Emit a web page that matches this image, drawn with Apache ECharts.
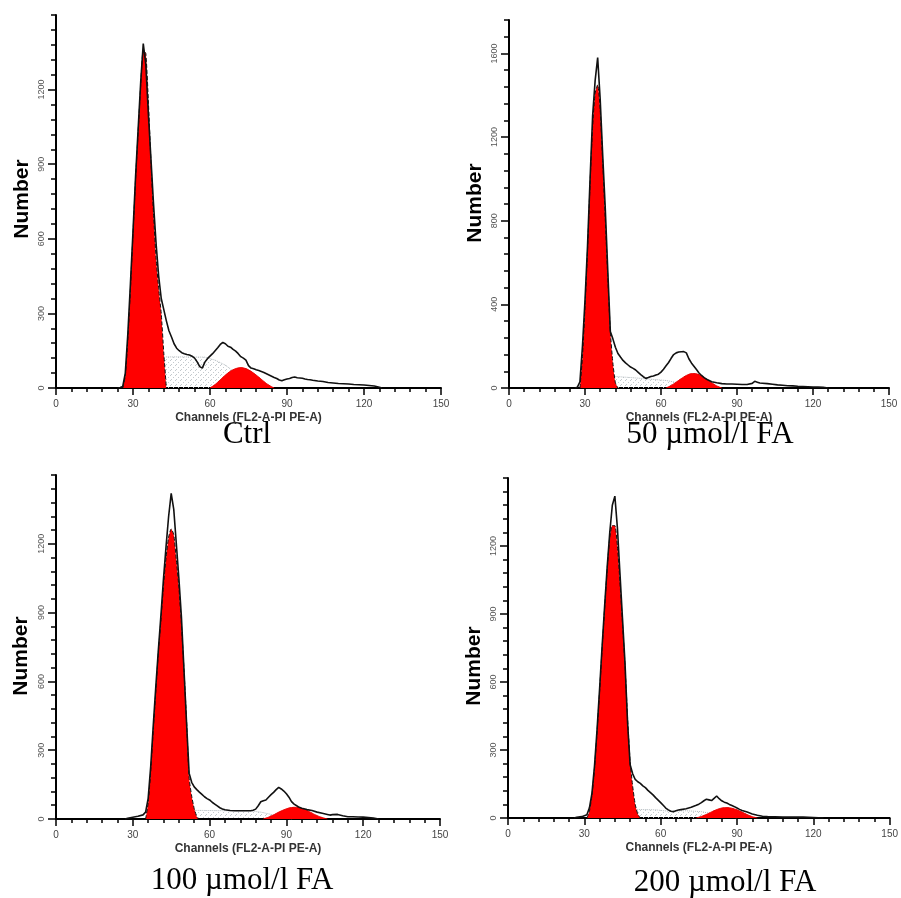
<!DOCTYPE html>
<html><head><meta charset="utf-8">
<script src="https://cdn.jsdelivr.net/npm/echarts@6/dist/echarts.min.js"></script>
<style>html,body{margin:0;padding:0;background:#fff}#c{width:901px;height:898px}</style>
</head><body><div id="c"></div>
<script>
// ---------- DATA (channel, count) ----------
const ctrlHist = [[24,0],[25,2],[26,6],[27,60],[28,220],[29,420],[30,630],[31,850],[32,1040],[33,1230],[34,1385],[35,1300],[36,1100],[37,920],[38,740],[39,580],[40,450],[41,360],[42,315],[43,270],[44,230],[45,205],[46,178],[47,160],[48,150],[49,142],[50,138],[51,135],[52,133],[53,128],[54,120],[55,105],[56,86],[57,80],[58,104],[59,118],[60,128],[61,138],[62,150],[63,162],[64,175],[65,183],[66,178],[67,168],[68,164],[69,155],[70,148],[71,138],[72,126],[73,120],[74,112],[75,90],[76,80],[77,77],[78,73],[79,70],[80,66],[81,62],[82,57],[83,52],[84,47],[85,42],[86,38],[87,32],[88,29],[89,33],[90,36],[91,38],[92,42],[93,44],[94,41],[95,40],[96,39],[97,36],[98,34],[99,33],[100,31],[102,28],[104,26],[106,22],[108,20],[110,18],[112,17],[114,16],[116,14],[118,13],[120,12],[122,10],[124,8],[126,3],[127,0]];
const ctrlG1 = [[26,0],[27,50],[28,200],[29,400],[30,620],[31,840],[32,1030],[33,1220],[34,1360],[35,1345],[36,1150],[37,910],[38,700],[39,520],[40,400],[41,300],[42,140],[43,0]];
const ctrlG2 = [[60,0],[62,14],[64,33],[66,52],[68,68],[70,78],[72,82],[74,78],[76,67],[78,52],[80,35],[82,18],[84,5],[85,0]];
const ctrlS = [[42,125],[50,125],[58,124],[62,112],[66,92],[70,60],[74,24],[77,0]];

const fa50Hist = [[26,0],[27,4],[28,30],[29,200],[30,420],[31,680],[32,1000],[33,1300],[34,1470],[35,1580],[36,1380],[37,1110],[38,860],[39,560],[40,270],[41,235],[42,195],[43,165],[44,148],[45,132],[46,120],[47,110],[48,100],[49,94],[50,86],[51,75],[52,64],[53,54],[54,46],[55,50],[56,55],[57,57],[58,62],[59,66],[60,76],[61,90],[62,106],[63,122],[64,142],[65,160],[66,168],[67,172],[68,173],[69,174],[70,168],[71,140],[72,120],[73,104],[74,88],[75,72],[76,60],[77,50],[78,42],[79,36],[80,30],[82,25],[84,21],[86,19],[88,19],[90,18],[92,17],[94,17],[96,22],[97,32],[98,28],[99,24],[100,23],[102,21],[104,18],[106,15],[108,13],[110,11],[112,10],[114,8],[116,7],[118,6],[120,5],[122,4],[124,3],[126,0]];
const fa50G1 = [[28,0],[29,150],[30,390],[31,660],[32,980],[33,1250],[34,1410],[35,1450],[36,1330],[37,1080],[38,810],[39,530],[40,270],[41,120],[42,25],[43,0]];
const fa50G2 = [[62,0],[64,12],[66,28],[68,45],[70,60],[72,69],[74,68],[76,58],[78,42],[80,25],[82,10],[84,0]];
const fa50S = [[42,55],[48,50],[56,42],[62,36],[68,22],[73,0]];

const fa100Hist = [[27,0],[28,3],[30,8],[32,12],[34,18],[35,30],[36,90],[37,230],[38,410],[39,580],[40,740],[41,890],[42,1050],[43,1190],[44,1320],[45,1420],[46,1350],[47,1200],[48,1050],[49,880],[50,650],[51,420],[52,200],[53,160],[54,140],[55,128],[56,117],[57,107],[58,97],[59,89],[60,83],[61,73],[62,65],[63,57],[64,49],[65,44],[66,40],[68,37],[70,36],[72,36],[74,36],[76,36],[77,38],[78,43],[79,58],[80,75],[81,80],[82,83],[83,95],[84,106],[85,116],[86,128],[87,138],[88,131],[89,122],[90,110],[91,95],[92,76],[93,65],[94,58],[95,51],[96,47],[98,41],[100,37],[102,30],[104,25],[106,20],[107,17],[108,19],[110,20],[112,14],[114,10],[116,10],[118,9],[120,8],[122,6],[124,4],[126,0]];
const fa100G1 = [[35,0],[36,70],[37,210],[38,390],[39,560],[40,730],[41,870],[42,1020],[43,1140],[44,1230],[45,1265],[46,1240],[47,1130],[48,1010],[49,850],[50,650],[51,430],[52,180],[53,100],[54,45],[55,10],[55.6,0]];
const fa100G2 = [[81,0],[83,8],[85,18],[87,30],[89,40],[91,48],[93,51],[95,49],[97,42],[99,32],[101,20],[103,10],[105,3],[106,0]];
const fa100S = [[53,38],[66,36],[76,35],[80,30],[84,20],[88,8],[92,0]];

const fa200Hist = [[26,0],[27,3],[29,6],[31,14],[32,45],[33,110],[34,230],[35,390],[36,570],[37,760],[38,940],[39,1110],[40,1260],[41,1380],[42,1420],[43,1280],[44,1080],[45,880],[46,680],[47,420],[48,235],[49,195],[50,170],[51,160],[52,153],[53,142],[54,134],[55,122],[56,112],[57,102],[58,90],[59,79],[60,68],[61,56],[62,44],[63,36],[64,30],[65,28],[66,32],[67,35],[68,37],[70,41],[72,47],[74,56],[75,61],[76,68],[77,76],[78,83],[79,80],[80,77],[81,87],[82,97],[83,85],[84,76],[85,70],[86,66],[87,60],[88,55],[89,50],[90,44],[91,38],[92,33],[94,26],[96,18],[98,12],[100,8],[102,6],[105,5],[108,4],[112,4],[116,4],[118,3],[120,2],[122,1],[124,0]];
const fa200G1 = [[31,0],[32,30],[33,100],[34,220],[35,380],[36,560],[37,750],[38,930],[39,1100],[40,1240],[41,1290],[42,1290],[43,1200],[44,1040],[45,860],[46,670],[47,440],[48,250],[49,140],[50,60],[51,18],[52,0]];
const fa200G2 = [[74,0],[76,7],[78,16],[80,27],[82,37],[84,44],[86,46],[88,43],[90,36],[92,26],[94,15],[96,6],[98,0]];
const fa200S = [[50,38],[58,36],[63,30],[70,32],[76,28],[82,15],[88,4],[90,0]];

const panelTitles = ['Ctrl', '50 \u00b5mol/l FA', '100 \u00b5mol/l FA', '200 \u00b5mol/l FA'];
const xTickLabels = [0, 30, 60, 90, 120, 150];
const yMaxes = [1500, 1760, 1500, 1500];
const yMinorSteps = [60, 80, 60, 60];
const yMajorSteps = [300, 400, 300, 300];
const yLabelTop = [1200, 1600, 1200, 1200];
const xAxisTitle = 'Channels (FL2-A-PI PE-A)';
const yAxisTitle = 'Number';

// ---------- LAYOUT ----------
const panels = [
  {hist: ctrlHist, g1: ctrlG1, g2: ctrlG2, s: ctrlS, grid: {left: 56, top: 15, width: 385, height: 373}, title: [247, 435], num: [22, 199]},
  {hist: fa50Hist, g1: fa50G1, g2: fa50G2, s: fa50S, grid: {left: 509, top: 20, width: 380, height: 368}, title: [710, 435], num: [475, 203]},
  {hist: fa100Hist, g1: fa100G1, g2: fa100G2, s: fa100S, grid: {left: 56, top: 475, width: 384, height: 344}, title: [242, 881], num: [21, 656]},
  {hist: fa200Hist, g1: fa200G1, g2: fa200G2, s: fa200S, grid: {left: 508, top: 478, width: 391, height: 340}, title: [725, 883], num: [474, 666]}
];

const pc = document.createElement('canvas');
pc.width = 5; pc.height = 5;
const g = pc.getContext('2d');
g.fillStyle = '#c3c9cd';
g.fillRect(0, 0, 1, 1);
g.fillRect(3, 2, 1, 1);
g.fillRect(1, 4, 1, 1);

const grids = [], xAxes = [], yAxes = [], series = [], graphic = [];
panels.forEach((p, i) => {
  grids.push(Object.assign({containLabel: false}, p.grid));
  const mainX = xAxes.length;
  xAxes.push({
    type: 'value', gridIndex: i, min: 0, max: 150, interval: 6, position: 'bottom',
    axisLine: {onZero: false, lineStyle: {color: '#000', width: 2}},
    axisTick: {length: 4, lineStyle: {color: '#000', width: 1.5}},
    axisLabel: {interval: 0, hideOverlap: false, formatter: v => (xTickLabels.indexOf(v) >= 0 ? String(v) : ''), fontSize: 10, color: '#444', margin: 11, fontFamily: 'Liberation Sans'},
    splitLine: {show: false},
    name: xAxisTitle, nameLocation: 'middle', nameGap: 24,
    nameTextStyle: {fontSize: 12, fontWeight: 'bold', color: '#333', fontFamily: 'Liberation Sans'}
  });
  xAxes.push({
    type: 'value', gridIndex: i, min: 0, max: 150, position: 'bottom', offset: 0,
    axisLine: {show: false}, axisLabel: {show: false}, splitLine: {show: false},
    axisTick: {show: true, customValues: xTickLabels, length: 7, lineStyle: {color: '#000', width: 1.5}}
  });
  const mainY = yAxes.length;
  const maj = yMajorSteps[i];
  const top = yLabelTop[i];
  yAxes.push({
    type: 'value', gridIndex: i, min: 0, max: yMaxes[i], interval: yMinorSteps[i], position: 'left',
    axisLine: {show: true, onZero: false, lineStyle: {color: '#000', width: 2}},
    axisTick: {show: true, length: 5, lineStyle: {color: '#000', width: 1.5}},
    axisLabel: {interval: 0, hideOverlap: false, rotate: 90, formatter: v => (v % maj === 0 && v <= top ? String(v) : ''), fontSize: 9, color: '#555', margin: 10, fontFamily: 'Liberation Sans'},
    splitLine: {show: false}
  });
  const majVals = [];
  for (let v = 0; v <= top; v += maj) majVals.push(v);
  yAxes.push({
    type: 'value', gridIndex: i, min: 0, max: yMaxes[i], position: 'left', offset: 0,
    axisLine: {show: false}, axisLabel: {show: false}, splitLine: {show: false},
    axisTick: {show: true, customValues: majVals, length: 8, lineStyle: {color: '#000', width: 1.5}}
  });
  const base = {type: 'line', xAxisIndex: mainX, yAxisIndex: mainY, showSymbol: false, symbol: 'none', silent: true};
  series.push(Object.assign({}, base, {
    data: p.s, z: 1,
    lineStyle: {color: '#b0b8bc', width: 1, type: 'dotted'},
    areaStyle: {color: {image: pc, repeat: 'repeat'}, opacity: 1}
  }));
  series.push(Object.assign({}, base, {
    data: p.g1, z: 2, smooth: 0.2,
    lineStyle: {color: '#111', width: 1, type: 'dashed'},
    areaStyle: {color: '#ff0000', opacity: 1}
  }));
  series.push(Object.assign({}, base, {
    data: p.g2, z: 2, smooth: 0.2,
    lineStyle: {color: '#e60000', width: 1},
    areaStyle: {color: '#ff0000', opacity: 1}
  }));
  series.push(Object.assign({}, base, {
    data: p.hist, z: 3,
    lineStyle: {color: '#111', width: 1.6}
  }));
  graphic.push({type: 'text', x: p.title[0], y: p.title[1], silent: true,
    style: {text: panelTitles[i], fontSize: 31, fontFamily: 'Liberation Serif', fill: '#000', align: 'center', verticalAlign: 'middle'}});
  graphic.push({type: 'text', x: p.num[0], y: p.num[1], rotation: Math.PI / 2, silent: true,
    style: {text: yAxisTitle, fontSize: 21, fontWeight: 'bold', fontFamily: 'Liberation Sans', fill: '#000', align: 'center', verticalAlign: 'middle'}});
});

const chart = echarts.init(document.getElementById('c'), null, {renderer: 'canvas'});
chart.setOption({
  animation: false,
  backgroundColor: '#fff',
  grid: grids, xAxis: xAxes, yAxis: yAxes, series: series, graphic: graphic
});
</script></body></html>
